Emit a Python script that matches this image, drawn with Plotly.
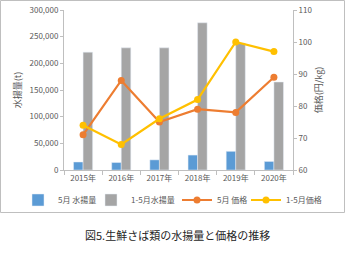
import plotly.graph_objects as go

years = ["2015年", "2016年", "2017年", "2018年", "2019年", "2020年"]
may_catch = [15000, 14000, 19000, 28000, 35000, 16000]
jan_may_catch = [221000, 229000, 229000, 276000, 238000, 165000]
may_price = [71, 88, 75, 79, 78, 89]
jan_may_price = [74, 68, 76, 82, 100, 97]

W, H = 345, 253
L, R, T, B = 64, 52, 10, 83
pw, ph = W - L - R, H - T - B

def px_x(x):
    return (x - L) / pw

def px_y(y):
    return (H - B - y) / ph

font = "Noto Sans CJK JP, sans-serif"
tc = "#595959"

fig = go.Figure()
fig.add_trace(go.Bar(x=years, y=may_catch, name="5月 水揚量", marker_color="#5B9BD5", legend="legend"))
fig.add_trace(go.Bar(x=years, y=jan_may_catch, name="1-5月水揚量", marker_color="#A5A5A5", legend="legend2"))
fig.add_trace(go.Scatter(x=years, y=may_price, name="5月 価格", yaxis="y2", mode="lines+markers",
                         line=dict(color="#ED7D31", width=2.2), marker=dict(size=7, color="#ED7D31"),
                         legend="legend3"))
fig.add_trace(go.Scatter(x=years, y=jan_may_price, name="1-5月価格", yaxis="y2", mode="lines+markers",
                         line=dict(color="#FFC000", width=2.2), marker=dict(size=7, color="#FFC000"),
                         legend="legend4"))

def leg(x0):
    return dict(orientation="h", xref="container", yref="container",
                x=x0 / W, y=1 - 200 / H, xanchor="left", yanchor="middle",
                font=dict(size=8, color=tc), itemwidth=30, bgcolor="rgba(0,0,0,0)")

fig.update_layout(
    width=W, height=H,
    margin=dict(l=L, r=R, t=T, b=B, autoexpand=False),
    paper_bgcolor="white", plot_bgcolor="white",
    font=dict(family=font, size=8, color=tc),
    barmode="group", bargap=0.5, bargroupgap=0,
    showlegend=True,
    legend=leg(18), legend2=leg(91), legend3=leg(177), legend4=leg(246),
    xaxis=dict(showline=True, linecolor="#BFBFBF", ticks="outside", ticklen=4, tickcolor="#BFBFBF",
               tickson="boundaries", showgrid=False, tickfont=dict(size=8, color=tc)),
    yaxis=dict(range=[0, 300000], dtick=50000, tickformat=",", showline=True, linecolor="#BFBFBF",
               ticks="outside", ticklen=3, tickcolor="#BFBFBF", showgrid=False,
               tickfont=dict(size=8, color=tc),
               title=dict(text="水揚量(t)", font=dict(size=9, color=tc), standoff=6)),
    yaxis2=dict(range=[60, 110], dtick=10, overlaying="y", side="right", showline=True,
                linecolor="#BFBFBF", ticks="outside", ticklen=3, tickcolor="#BFBFBF", showgrid=False,
                tickfont=dict(size=8, color=tc),
                title=dict(text="価格(円/kg)", font=dict(size=9, color=tc), standoff=4)),
    shapes=[dict(type="rect", xref="paper", yref="paper",
                 x0=px_x(0.5), x1=px_x(344.5), y0=px_y(212.5), y1=px_y(0.5),
                 line=dict(color="#BFBFBF", width=1), layer="below")],
    annotations=[dict(text="図5.生鮮さば類の水揚量と価格の推移", xref="paper", yref="paper",
                      x=px_x(177), y=px_y(235), xanchor="center", yanchor="middle",
                      showarrow=False, font=dict(size=11, color="#262626"))],
)

fig.write_html("out.html")
